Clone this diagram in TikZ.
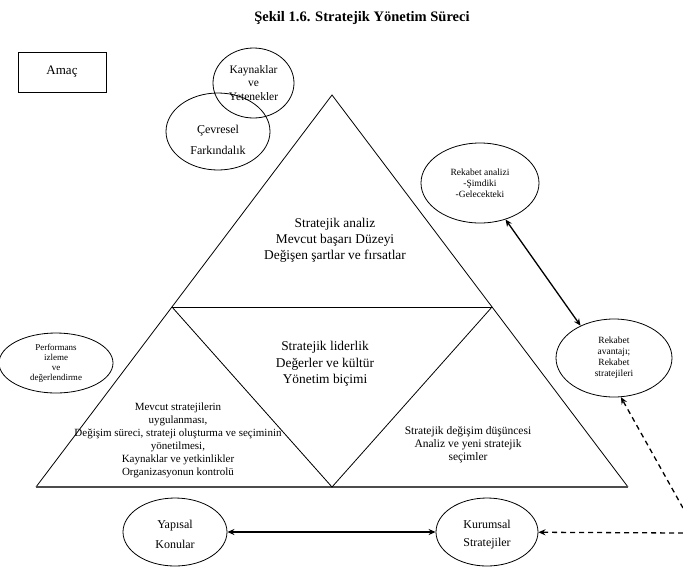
\documentclass[tikz,border=0pt]{standalone}
\usepackage{fontspec}
\setmainfont{Liberation Serif}
\usetikzlibrary{arrows.meta,shapes.geometric}
\begin{document}
\begin{tikzpicture}[x=1pt,y=-1pt,
  ell/.style={draw, ellipse, inner sep=0pt, line width=0.8pt},
  tri/.style={line width=0.8pt, line join=miter},
  lbl/.style={align=center, inner sep=0pt},
  tip/.style={Stealth[length=7pt,width=6pt]},
  arr/.style={line width=1.3pt, {Stealth[length=7pt,width=6pt]}-{Stealth[length=7pt,width=6pt]}},
  dsh/.style={line width=1.3pt, dash pattern=on 5pt off 4pt, -{Stealth[length=7pt,width=6pt]}}
]
\useasboundingbox (0,0) rectangle (683,566);

% title
\node[font=\fontsize{14.5}{17}\selectfont\bfseries] (title) at (362,18) {Şekil 1.6. Stratejik Yönetim Süreci};

% Amac box
\node[draw, line width=0.8pt, minimum width=88pt, minimum height=40pt, font=\fontsize{13}{15}\selectfont] (amac) at (62,72) {Amaç};

% triangle
\coordinate (A) at (332,95);
\coordinate (L) at (36,487);
\coordinate (R) at (628,487);
\coordinate (ML) at (172,307);
\coordinate (MR) at (492,307);
\coordinate (B) at (332,487);
\draw[tri] (L) -- (A) -- (R);
\draw[line width=1.5pt, gray!60!black] (L) -- (R);
\draw[tri] (ML) -- (MR);
\draw[tri] (ML) -- (B) -- (MR);

% ellipses
\node[ell, minimum width=104pt, minimum height=77pt] (cev) at (218,131.5) {};
\node[lbl, font=\fontsize{12}{21}\selectfont] (cevt) at (218,140) {Çevresel\\Farkındalık};
\node[ell, minimum width=81pt, minimum height=70pt, font=\fontsize{11.5}{13.5}\selectfont, align=center] (kay) at (253.5,83) {Kaynaklar\\ve\\Yetenekler};

\node[ell, minimum width=118pt, minimum height=80pt, font=\fontsize{9.5}{11}\selectfont, align=center] (rek) at (480,183) {Rekabet analizi\\-Şimdiki\\-Gelecekteki};
\node[ell, minimum width=116pt, minimum height=78pt, font=\fontsize{9.5}{11}\selectfont, align=center] (av) at (614,358) {Rekabet\\avantajı;\\Rekabet\\stratejileri};
\node[ell, minimum width=114pt, minimum height=60pt, font=\fontsize{9}{10}\selectfont, align=center] (perf) at (56,363) {Performans\\izleme\\ve\\değerlendirme};

\node[ell, minimum width=104pt, minimum height=68pt] (yap) at (175,532) {};
\node[lbl, font=\fontsize{12}{20}\selectfont] (yapt) at (175,534) {Yapısal\\Konular};
\node[ell, minimum width=102pt, minimum height=68pt] (kur) at (487,532) {};
\node[lbl, font=\fontsize{12}{18}\selectfont] (kurt) at (487,535) {Kurumsal\\Stratejiler};

% triangle texts
\node[lbl, font=\fontsize{13.4}{16}\selectfont] (t1) at (335,240) {Stratejik analiz\\Mevcut başarı Düzeyi\\Değişen şartlar ve fırsatlar};
\node[lbl, font=\fontsize{13.4}{16.5}\selectfont] (t2) at (325,364) {Stratejik liderlik\\Değerler ve kültür\\Yönetim biçimi};
\node[lbl, font=\fontsize{11}{13}\selectfont] (t3) at (178,440) {Mevcut stratejilerin\\uygulanması,\\Değişim süreci, strateji oluşturma ve seçiminin\\yönetilmesi,\\Kaynaklar ve yetkinlikler\\Organizasyonun kontrolü};
\node[lbl, font=\fontsize{11.5}{13}\selectfont] (t4) at (468,445) {Stratejik değişim düşüncesi\\Analiz ve yeni stratejik\\seçimler\hspace{14pt}};

% connectors
\draw[arr] (rek.-55) -- (av.136);
\draw[arr] (yap) -- (kur);
\coordinate (d1) at (683,508);
\coordinate (d2) at (683,533);
\draw[dsh] (d1) -- (av.-80);
\draw[dsh] (d2) -- (kur);
\end{tikzpicture}
\end{document}
